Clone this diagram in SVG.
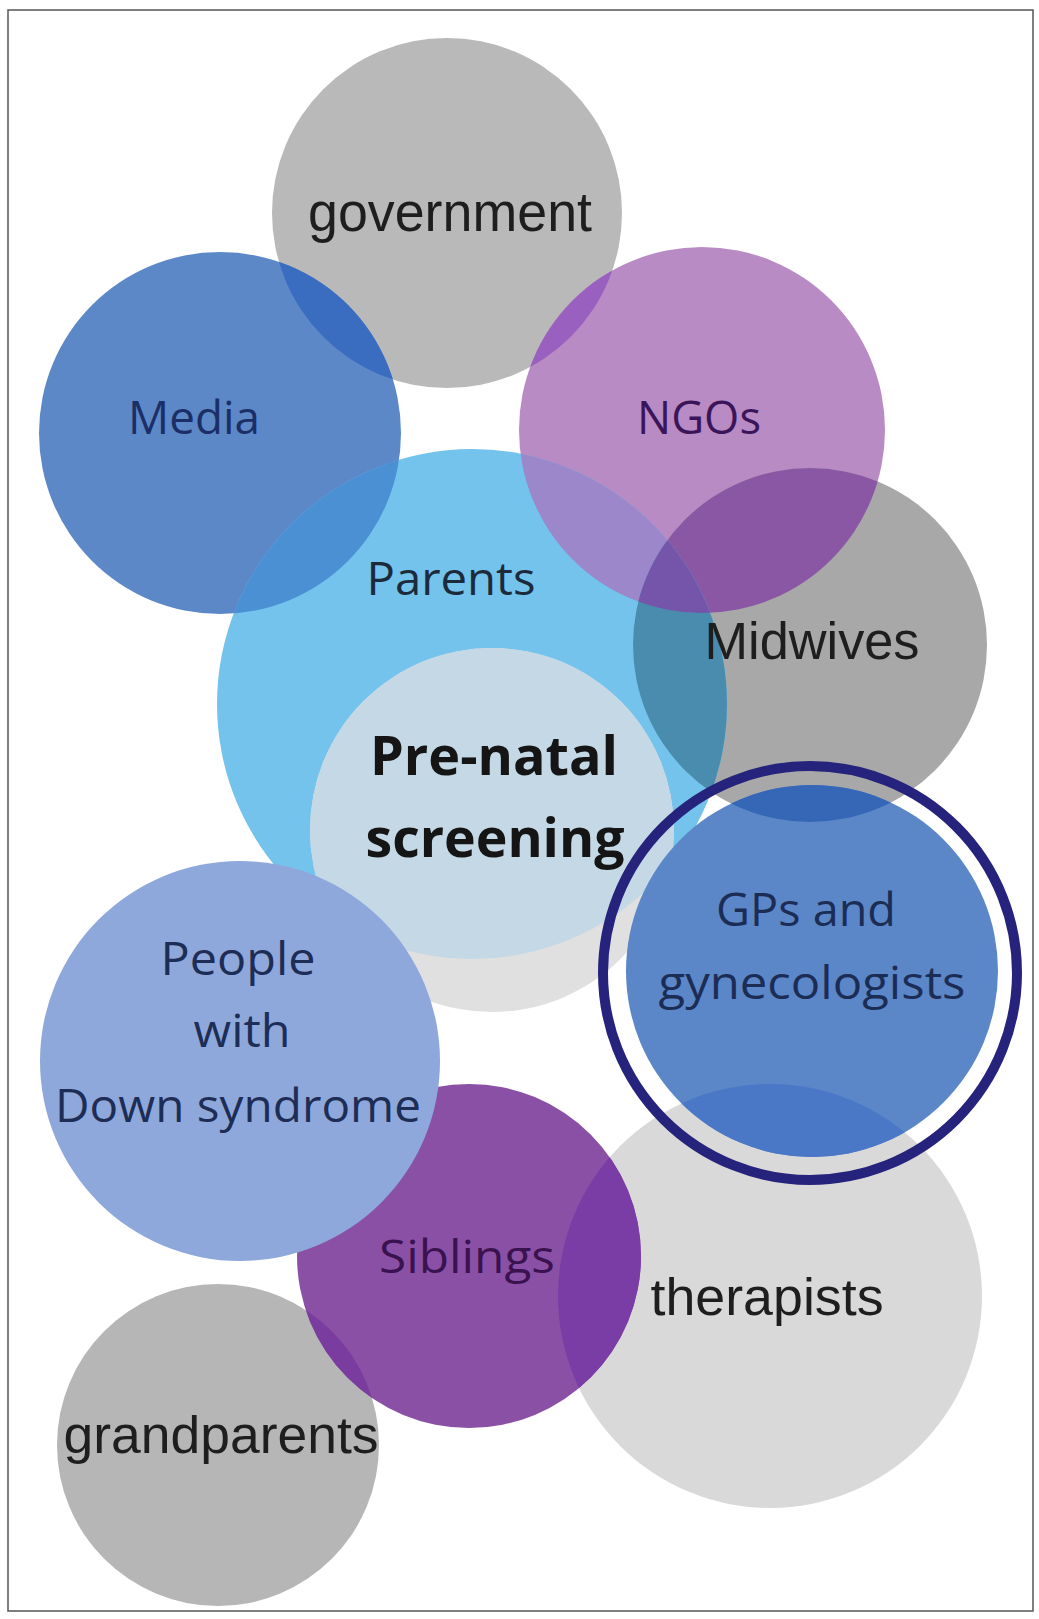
<svg xmlns="http://www.w3.org/2000/svg" width="1039" height="1619" viewBox="0 0 1039 1619">
<style>
.sans{font-family:"Open Sans","Noto Sans",sans-serif;}
.ar{font-family:"Liberation Sans",Arial,sans-serif;fill:#1e1e1e;}
text{text-anchor:middle;}
</style>
<defs>
<clipPath id="cGov"><circle cx="447" cy="213" r="175"/></clipPath>
<clipPath id="cMedia"><circle cx="220" cy="433" r="181"/></clipPath>
<clipPath id="cNGO"><circle cx="702" cy="430" r="183"/></clipPath>
<clipPath id="cParents"><circle cx="472" cy="704" r="255"/></clipPath>
<clipPath id="cMid"><circle cx="810" cy="645" r="177"/></clipPath>
<clipPath id="cTher"><circle cx="770" cy="1296" r="212"/></clipPath>
<clipPath id="cGrand"><circle cx="218" cy="1445" r="161"/></clipPath>
</defs>
<rect x="0" y="0" width="1039" height="1619" fill="#fff"/>
<rect x="8" y="10" width="1025" height="1601" fill="none" stroke="#555" stroke-width="1.5"/>

<g id="government"><circle cx="447" cy="213" r="175" fill="#b9b9b9"/></g>
<g id="media"><circle cx="220" cy="433" r="181" fill="#5c88c8"/>
<circle cx="220" cy="433" r="181" fill="#3a6cc0" clip-path="url(#cGov)"/></g>
<g id="ngos"><circle cx="702" cy="430" r="183" fill="#b88bc4"/>
<circle cx="702" cy="430" r="183" fill="#9a60bf" clip-path="url(#cGov)"/></g>
<g id="midwives"><circle cx="810" cy="645" r="177" fill="#a8a8a8"/>
<circle cx="810" cy="645" r="177" fill="#8a57a5" clip-path="url(#cNGO)"/></g>
<g id="parents"><circle cx="472" cy="704" r="255" fill="#74c3ec"/>
<circle cx="472" cy="704" r="255" fill="#4a90d3" clip-path="url(#cMedia)"/>
<circle cx="472" cy="704" r="255" fill="#9b87c9" clip-path="url(#cNGO)"/>
<circle cx="472" cy="704" r="255" fill="#4a8cae" clip-path="url(#cMid)"/>
<g clip-path="url(#cNGO)"><circle cx="472" cy="704" r="255" fill="#7555aa" clip-path="url(#cMid)"/></g></g>
<g id="prenatal"><circle cx="492" cy="830" r="182" fill="#e0e0e0"/>
<circle cx="492" cy="830" r="182" fill="#c4d8e6" clip-path="url(#cParents)"/></g>
<g id="therapists"><circle cx="770" cy="1296" r="212" fill="#d9d9d9"/></g>
<g id="gps"><circle cx="812" cy="971" r="186" fill="#5b87c8"/>
<circle cx="812" cy="971" r="186" fill="#3666b6" clip-path="url(#cMid)"/>
<circle cx="812" cy="971" r="186" fill="#4a78c6" clip-path="url(#cTher)"/>
<circle cx="810" cy="973" r="207" fill="none" stroke="#25237b" stroke-width="10"/></g>
<g id="grandparents"><circle cx="218" cy="1445" r="161" fill="#b6b6b6"/></g>
<g id="siblings"><circle cx="469" cy="1256" r="172" fill="#8a50a5"/>
<circle cx="469" cy="1256" r="172" fill="#7a3da6" clip-path="url(#cTher)"/>
<circle cx="469" cy="1256" r="172" fill="#7a3c9e" clip-path="url(#cGrand)"/></g>
<g id="people"><circle cx="240" cy="1061" r="200" fill="#8fa8db"/></g>

<g id="labels">
<text class="ar" x="450" y="231" font-size="56" textLength="284" lengthAdjust="spacingAndGlyphs">government</text>
<text class="sans" x="194" y="434" font-size="46" fill="#1b2f66" textLength="132" lengthAdjust="spacingAndGlyphs">Media</text>
<text class="sans" x="699" y="434" font-size="46" fill="#3b1559" textLength="124" lengthAdjust="spacingAndGlyphs">NGOs</text>
<text class="sans" x="451" y="595" font-size="46" fill="#1c2b3c" textLength="169" lengthAdjust="spacingAndGlyphs">Parents</text>
<text class="ar" x="812" y="659" font-size="51" textLength="215" lengthAdjust="spacingAndGlyphs">Midwives</text>
<text class="sans" x="494" y="775" font-size="54" font-weight="bold" fill="#151515" textLength="248" lengthAdjust="spacingAndGlyphs">Pre-natal</text>
<text class="sans" x="495" y="857" font-size="54" font-weight="bold" fill="#151515" textLength="259" lengthAdjust="spacingAndGlyphs">screening</text>
<text class="sans" x="806" y="926" font-size="46" fill="#1c2d55" textLength="180" lengthAdjust="spacingAndGlyphs">GPs and</text>
<text class="sans" x="812" y="999" font-size="46" fill="#1c2d55" textLength="307" lengthAdjust="spacingAndGlyphs">gynecologists</text>
<text class="sans" x="238" y="975" font-size="46" fill="#1d2d55" textLength="155" lengthAdjust="spacingAndGlyphs">People</text>
<text class="sans" x="242" y="1047" font-size="46" fill="#1d2d55" textLength="97" lengthAdjust="spacingAndGlyphs">with</text>
<text class="sans" x="238" y="1122" font-size="46" fill="#1d2d55" textLength="366" lengthAdjust="spacingAndGlyphs">Down syndrome</text>
<text class="sans" x="467" y="1273" font-size="46" fill="#3a1250" textLength="176" lengthAdjust="spacingAndGlyphs">Siblings</text>
<text class="ar" x="767" y="1315" font-size="51" textLength="233" lengthAdjust="spacingAndGlyphs">therapists</text>
<text class="ar" x="221" y="1453" font-size="51" textLength="315" lengthAdjust="spacingAndGlyphs">grandparents</text>
</g>
</svg>
